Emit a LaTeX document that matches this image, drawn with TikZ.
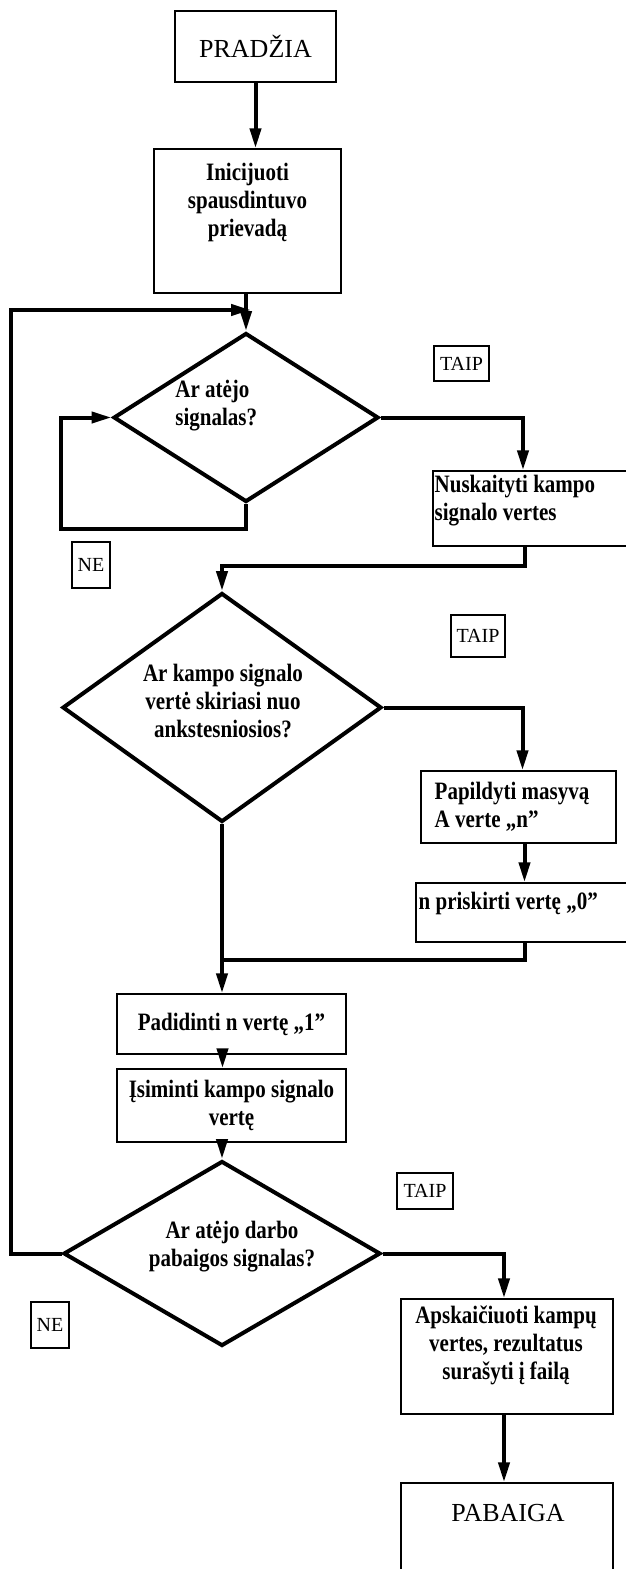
\documentclass[tikz,border=0pt]{standalone}
\usepackage{fontspec}
\setmainfont{Liberation Serif}
\newfontfamily\boxfont[FakeStretch=0.84]{Liberation Serif}
\usepackage{tikz}
\usetikzlibrary{arrows.meta,calc,positioning,shapes.geometric}

\begin{document}
\begin{tikzpicture}[x=0.5pt,y=-0.5pt,
    proc/.style={draw,line width=0.7pt,inner sep=0pt},
    cond/.style={diamond,draw,line width=2pt,inner sep=0pt},
    bf/.style={font=\boxfont\bfseries\fontsize{12.5}{14}\selectfont},
    btext/.style={bf,inner sep=0pt},
    lbl/.style={draw,line width=0.7pt,inner sep=1pt,font=\fontsize{10}{12}\selectfont},
    flow/.style={line width=2pt,-{Triangle[length=10pt,width=5.5pt]}},
    link/.style={line width=2pt}]
  \useasboundingbox (0,0) rectangle (626,1569);
  % steps
  \node[proc,minimum width=80.5pt,minimum height=35.5pt,font=\fontsize{13}{15}\selectfont] (start) at (255.5,46.5) {PRADŽIA};
  \node[proc,minimum width=93.5pt,minimum height=72pt] (ini) at (247.5,221) {};
  \node[btext,align=center,anchor=north] (initxt) at ($(ini.north)+(0,14)$) {Inicijuoti\\spausdintuvo\\prievadą};
  \node[cond,minimum width=132.5pt,minimum height=84.5pt] (d1) at (246,417.5) {};
  \node[btext,align=left,anchor=west] (d1txt) at ($(d1)+(-71,-11.5)$) {Ar atėjo\\signalas?};
  \node[proc,minimum width=100pt,minimum height=37.5pt] (nusk) at (533,508.5) {};
  \node[btext,align=left,anchor=west] (nusktxt) at ($(nusk.west)+(2,-8)$) {Nuskaityti kampo\\signalo vertes};
  \node[cond,minimum width=159.5pt,minimum height=114.5pt] (d2) at (222,707.5) {};
  \node[btext,align=center] (d2txt) at ($(d2)+(1,-7)$) {Ar kampo signalo\\vertė skiriasi nuo\\ankstesniosios?};
  \node[proc,minimum width=97.5pt,minimum height=36pt] (pap) at (518.5,807) {};
  \node[btext,align=left,anchor=west] (paptxt) at ($(pap.west)+(14,0)$) {Papildyti masyvą\\A verte „n”};
  \node[proc,minimum width=108.5pt,minimum height=29.5pt] (npr) at (524.5,912.5) {};
  \node[btext,anchor=west] (nprtxt) at ($(npr.west)+(3,-9)$) {n priskirti vertę „0”};
  \node[proc,bf,minimum width=114.5pt,minimum height=30pt] (pad) at (231.5,1024) {Padidinti n vertę „1”};
  \node[proc,bf,align=center,minimum width=114.5pt,minimum height=36.5pt] (isim) at (231.5,1105.5) {Įsiminti kampo signalo\\vertę};
  \node[cond,minimum width=158.5pt,minimum height=92.5pt] (d3) at (222,1253.5) {};
  \node[btext,align=center] (d3txt) at ($(d3)+(10,-6.5)$) {Ar atėjo darbo\\pabaigos signalas?};
  \node[proc,minimum width=106pt,minimum height=57.5pt] (apsk) at (507,1356.5) {};
  \node[btext,align=center,anchor=north] (apsktxt) at ($(apsk.north)+(-1,7)$) {Apskaičiuoti kampų\\vertes, rezultatus\\surašyti į failą};
  \node[proc,minimum width=106pt,minimum height=46pt] (pab) at (507,1529) {};
  \node[inner sep=0pt,font=\fontsize{13}{15}\selectfont] (pabtxt) at ($(pab.north)+(1,31)$) {PABAIGA};
  % answers
  \node[lbl,minimum width=27.5pt,minimum height=17.5pt] (taip1) at (461.5,363.5) {TAIP};
  \node[lbl,minimum width=27pt,minimum height=21pt] (taip2) at (478,636) {TAIP};
  \node[lbl,minimum width=28pt,minimum height=18pt] (taip3) at (425,1191) {TAIP};
  \node[lbl,minimum width=19pt,minimum height=23pt] (ne1) at (91,565) {NE};
  \node[lbl,minimum width=19pt,minimum height=23pt] (ne2) at (50,1325) {NE};
  % connectors
  \coordinate (join1) at (251,310);
  \coordinate (join2) at ($(npr.south)+(0,17)$);
  \draw[flow] (start.south) -- (start.south |- ini.north);
  \draw[flow] (ini.south -| d1.north) -- (d1.north);
  \draw[flow] (d3.west) -| (11,310) -- (join1);
  \draw[flow] (d1.south) -- ++(0,25) -| ($(d1.west)+(-51,0)$) -- (d1.west);
  \draw[flow] (d1.east) -| ([xshift=-5pt]nusk.north);
  \draw[flow] ([xshift=-4pt]nusk.south) -- ++(0,19) -| (d2.north);
  \draw[flow] (d2.east) -| ([xshift=2pt]pap.north);
  \draw[flow] ([xshift=3pt]pap.south) -- ([xshift=3pt]pap.south |- npr.north);
  \draw[link] (npr.south) -- (join2) -- (join2 -| d2.south);
  \draw[flow] (d2.south) -- (d2.south |- pad.north);
  \draw[flow] ([xshift=-4.5pt]pad.south) -- ([xshift=-4.5pt]isim.north);
  \draw[flow] (isim.south -| d3.north) -- (d3.north);
  \draw[flow] (d3.east) -| ([xshift=-1.5pt]apsk.north);
  \draw[flow] ([xshift=-1.5pt]apsk.south) -- ([xshift=-1.5pt]pab.north);
\end{tikzpicture}
\end{document}
